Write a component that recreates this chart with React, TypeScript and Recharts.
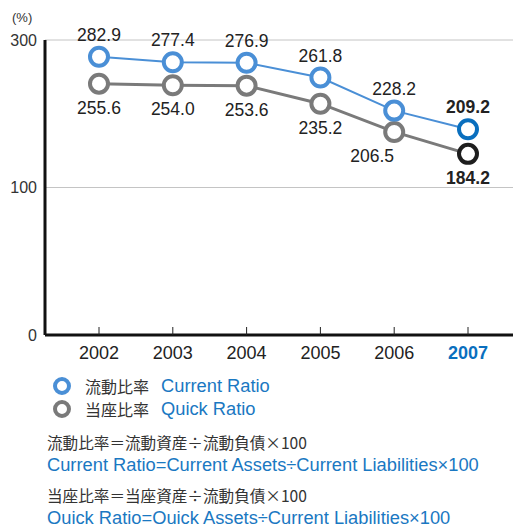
import React from "react";
import { CartesianGrid, LabelList, Line, LineChart, XAxis, YAxis } from "recharts";

const years = ["2002", "2003", "2004", "2005", "2006", "2007"];
const currentRatio = [282.9, 277.4, 276.9, 261.8, 228.2, 209.2];
const quickRatio = [255.6, 254.0, 253.6, 235.2, 206.5, 184.2];
// the source places its "100" gridline halfway up the axis
const yTickValues = [0, 150, 300];
const yTickLabels = ["0", "100", "300"];

const FONT = '"Liberation Sans", Arial, Helvetica, sans-serif';
const CJK = '"Noto Sans CJK JP", "Liberation Sans", sans-serif';
const TEXT = "#222";
const BLUE_TEXT = "#1a78c2";
const BLUE = "#4a8fd6";
const BLUE_LAST = "#0a6fbe";
const GRAY = "#7a7a7a";
const GRAY_LAST = "#1e1e1e";

const rows = years.map((year, i) => ({
  year,
  current: currentRatio[i],
  quick: quickRatio[i],
}));

const last = years.length - 1;

function makeDot(color: string, lastColor: string) {
  return (props: any) => {
    const { cx, cy, index } = props;
    return (
      <circle
        key={`dot-${index}`}
        cx={cx}
        cy={cy}
        r={9}
        fill="#fff"
        stroke={index === last ? lastColor : color}
        strokeWidth={4}
      />
    );
  };
}

function makeLabel(above: boolean) {
  return (props: any) => {
    const { x, y, value, index } = props;
    // 2006 quick ratio label sits down-left of its marker
    const dx = !above && index === 4 ? -22 : 0;
    return (
      <text
        x={x + dx}
        y={above ? y - 16 : y + 30}
        textAnchor="middle"
        fontFamily={FONT}
        fontSize={17.5}
        fontWeight={index === last ? 700 : 400}
        fill={TEXT}
      >
        {value.toFixed(1)}
      </text>
    );
  };
}

function YearTick(props: any) {
  const { x, y, payload, index } = props;
  const isLast = index === last;
  return (
    <g>
      <line x1={x} x2={x} y1={y - 18} y2={y - 10} stroke="#222" strokeWidth={1} />
      <text
        x={x}
        y={y}
        dy="0.75em"
        textAnchor="middle"
        fontFamily={FONT}
        fontSize={18}
        fontWeight={isLast ? 700 : 400}
        fill={isLast ? BLUE_LAST : TEXT}
      >
        {payload.value}
      </text>
    </g>
  );
}

const legendItems = [
  { jp: "流動比率", en: "Current Ratio", color: BLUE },
  { jp: "当座比率", en: "Quick Ratio", color: GRAY },
];

const formulas = [
  { jp: "流動比率＝流動資産÷流動負債×100", en: "Current Ratio=Current Assets÷Current Liabilities×100" },
  { jp: "当座比率＝当座資産÷流動負債×100", en: "Quick Ratio=Quick Assets÷Current Liabilities×100" },
];

export default function App() {
  return (
    <div style={{ position: "absolute", left: 0, top: 0, width: 513, height: 524, background: "#fff", overflow: "hidden" }}>
      <div style={{ position: "absolute", left: 12, top: 10, fontFamily: FONT, fontSize: 13, color: "#333" }}>(%)</div>
      <LineChart width={513} height={370} data={rows} margin={{ top: 40, right: 0, left: 0, bottom: 5 }}>
        <CartesianGrid vertical={false} stroke="#c4c4c4" strokeWidth={1} />
        <XAxis
          dataKey="year"
          padding={{ left: 54, right: 45 }}
          height={30}
          axisLine={{ stroke: "#111", strokeWidth: 3 }}
          tickLine={false}
          tickSize={10}
          tickMargin={0}
          tick={<YearTick />}
          interval={0}
        />
        <YAxis
          width={45}
          domain={[0, 300]}
          ticks={yTickValues}
          tickFormatter={(v: number) => yTickLabels[yTickValues.indexOf(v)]}
          axisLine={{ stroke: "#111", strokeWidth: 3 }}
          tickLine={false}
          tick={{ fontFamily: FONT, fontSize: 16, fill: "#333" }}
        />
        <Line
          dataKey="quick"
          stroke={GRAY}
          strokeWidth={3}
          dot={makeDot(GRAY, GRAY_LAST)}
          isAnimationActive={false}
        >
          <LabelList dataKey="quick" content={makeLabel(false)} />
        </Line>
        <Line
          dataKey="current"
          stroke={BLUE}
          strokeWidth={2}
          dot={makeDot(BLUE, BLUE_LAST)}
          isAnimationActive={false}
        >
          <LabelList dataKey="current" content={makeLabel(true)} />
        </Line>
      </LineChart>
      {legendItems.map((item, i) => (
        <div key={item.en} style={{ position: "absolute", left: 53, top: 375 + i * 23, height: 22, display: "flex", alignItems: "center", whiteSpace: "nowrap" }}>
          <span style={{ width: 10, height: 10, borderRadius: "50%", border: `4px solid ${item.color}`, display: "inline-block" }} />
          <span style={{ marginLeft: 14, fontFamily: CJK, fontSize: 16, color: "#333" }}>{item.jp}</span>
          <span style={{ marginLeft: 12, fontFamily: FONT, fontSize: 18.3, color: BLUE_TEXT }}>{item.en}</span>
        </div>
      ))}
      {formulas.map((f, i) => (
        <div key={f.en} style={{ position: "absolute", left: 47, top: 431 + i * 53, whiteSpace: "nowrap" }}>
          <div style={{ fontFamily: CJK, fontSize: 15.6, color: "#333", height: 22, lineHeight: "22px" }}>{f.jp}</div>
          <div style={{ fontFamily: FONT, fontSize: 18.3, color: BLUE_TEXT, height: 22, lineHeight: "22px", marginTop: 1 }}>{f.en}</div>
        </div>
      ))}
    </div>
  );
}
